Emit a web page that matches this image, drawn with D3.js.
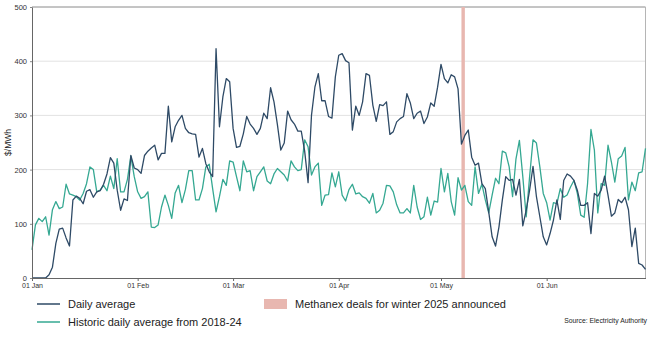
<!DOCTYPE html>
<html>
<head>
<meta charset="utf-8">
<script src="https://cdn.jsdelivr.net/npm/d3@7"></script>
<style>
  html, body { margin: 0; padding: 0; background: #fff; }
  svg { display: block; font-family: "Liberation Sans", Arial, sans-serif; }
</style>
</head>
<body>
<svg id="chart" width="650" height="337"></svg>
<script>
// ---- data ----
const startDate = Date.UTC(2025, 0, 1);
const endDate = Date.UTC(2025, 5, 30);
const dailyAverage = [
  0,0,0,0,0,6,20,64,90,92,74,59,144,151,147,137,160,163,149,159,
  161,173,192,222,212,162,125,146,143,226,203,200,193,226,234,240,245,218,230,230,
  317,251,279,291,300,276,268,266,265,223,239,211,196,187,423,279,334,368,362,276,
  241,243,266,298,284,276,265,276,304,294,351,325,283,236,249,308,292,284,271,271,
  234,176,300,352,377,327,327,298,295,371,411,414,401,397,273,317,300,325,377,374,
  319,289,320,318,325,265,270,288,294,298,340,323,294,304,308,285,297,323,317,352,
  394,368,360,375,371,349,247,263,273,223,208,212,174,165,122,76,59,94,144,187,
  180,182,153,182,96,125,162,206,150,113,76,61,82,107,144,108,180,192,188,180,
  162,134,134,139,82,156,151,162,188,153,114,120,145,139,149,126,58,92,27,24,
  16
];
const historicAverage = [
  52,98,110,104,113,79,126,141,128,131,173,155,153,150,144,156,174,205,200,159,
  162,171,161,188,165,220,159,159,182,225,187,159,147,150,159,94,93,98,131,153,
  134,110,157,171,139,163,198,198,144,144,165,205,210,165,122,150,182,171,216,214,
  187,161,216,196,198,161,187,196,205,179,174,192,202,196,190,179,216,205,198,200,
  255,242,190,205,212,134,153,154,194,168,196,153,142,163,173,155,157,150,147,138,
  156,120,125,138,171,170,159,135,120,120,128,120,171,131,108,113,149,116,142,140,
  202,159,193,141,116,185,162,171,141,134,205,156,173,144,120,153,184,174,234,231,
  205,150,220,254,187,113,187,255,249,205,156,139,107,139,137,165,149,153,168,180,
  156,116,112,174,274,236,120,174,171,245,214,177,220,225,241,144,177,161,194,196,
  239
];
const eventStart = Date.UTC(2025, 4, 7);
const eventEnd = Date.UTC(2025, 4, 8);
const yTicks = [0, 100, 200, 300, 400, 500];
const xTickDates = [0,1,2,3,4,5].map(m => new Date(Date.UTC(2025, m, 1)));
const seriesNames = ["Daily average", "Historic daily average from 2018-24"];
const eventName = "Methanex deals for winter 2025 announced";
const sourceText = "Source: Electricity Authority";
const yTitle = "$/MWh";

// ---- layout ----
const colDaily = "#2e4a66";
const colHist = "#35a892";
const colEvent = "#e8b7b0";
const L = 32, R = 645.5, T = 7, B = 278;

const svg = d3.select("#chart");
const x = d3.scaleUtc().domain([new Date(startDate), new Date(endDate)]).range([L, R]);
const y = d3.scaleLinear().domain([0, 500]).range([B, T]);

const dates = dailyAverage.map((_, i) => new Date(startDate + i * 86400000));

// gridlines
svg.append("g").selectAll("line").data(yTicks.filter(v => v > 0 && v < 500)).join("line")
  .attr("x1", L).attr("x2", R).attr("y1", d => y(d)).attr("y2", d => y(d))
  .attr("stroke", "#e2e2e2").attr("stroke-width", 1);

// frame top/right
svg.append("line").attr("x1", L).attr("x2", R).attr("y1", y(500)).attr("y2", y(500))
  .attr("stroke", "#8a8a8a").attr("stroke-width", 1);
svg.append("line").attr("x1", R).attr("x2", R).attr("y1", T).attr("y2", B)
  .attr("stroke", "#b5b5b5").attr("stroke-width", 1);

// event band
svg.append("rect")
  .attr("x", x(new Date(eventStart))).attr("width", x(new Date(eventEnd)) - x(new Date(eventStart)))
  .attr("y", T).attr("height", B - T)
  .attr("fill", colEvent);

// lines
const line = d3.line().x((d, i) => x(dates[i])).y(d => y(d));
svg.append("path").datum(historicAverage).attr("d", line)
  .attr("fill", "none").attr("stroke", colHist).attr("stroke-width", 1.3).attr("stroke-linejoin", "round");
svg.append("path").datum(dailyAverage).attr("d", line)
  .attr("fill", "none").attr("stroke", colDaily).attr("stroke-width", 1.3).attr("stroke-linejoin", "round");

// axes
const xAxis = svg.append("g").attr("transform", `translate(0,${B})`)
  .call(d3.axisBottom(x).tickValues(xTickDates).tickFormat(d3.utcFormat("%d %b")).tickSize(3).tickSizeOuter(0));
xAxis.select(".domain").attr("stroke", "#666");
xAxis.selectAll(".tick line").attr("stroke", "#666");
xAxis.selectAll("text").attr("font-size", 7).attr("fill", "#333").attr("dy", "0.6em")
  .attr("font-family", "Liberation Sans, Arial, sans-serif");

const yAxis = svg.append("g").attr("transform", `translate(${L},0)`)
  .call(d3.axisLeft(y).tickValues(yTicks).tickSize(2).tickSizeOuter(0));
yAxis.select(".domain").attr("stroke", "#666");
yAxis.selectAll(".tick line").attr("stroke", "#888");
yAxis.selectAll("text").attr("font-size", 7.5).attr("fill", "#333").attr("x", -5)
  .attr("font-family", "Liberation Sans, Arial, sans-serif");

svg.append("text").attr("transform", `translate(11,${(T + B) / 2}) rotate(-90)`)
  .attr("text-anchor", "middle").attr("font-size", 8.5).attr("fill", "#222").text(yTitle);

// legend
const lg = svg.append("g").attr("font-size", 11).attr("fill", "#222");
[[colDaily, 304], [colHist, 322]].forEach(([c, yy], i) => {
  lg.append("line").attr("x1", 37).attr("x2", 60).attr("y1", yy).attr("y2", yy)
    .attr("stroke", c).attr("stroke-width", 1.5);
  lg.append("text").attr("x", 68).attr("y", yy).attr("dy", "0.35em").text(seriesNames[i]);
});
lg.append("rect").attr("x", 264).attr("y", 299).attr("width", 23).attr("height", 10).attr("fill", colEvent);
lg.append("text").attr("x", 295).attr("y", 304).attr("dy", "0.35em").text(eventName);

svg.append("text").attr("x", 647).attr("y", 321).attr("dy", "0.35em").attr("text-anchor", "end")
  .attr("font-size", 6.8).attr("fill", "#222").text(sourceText);
</script>
</body>
</html>
